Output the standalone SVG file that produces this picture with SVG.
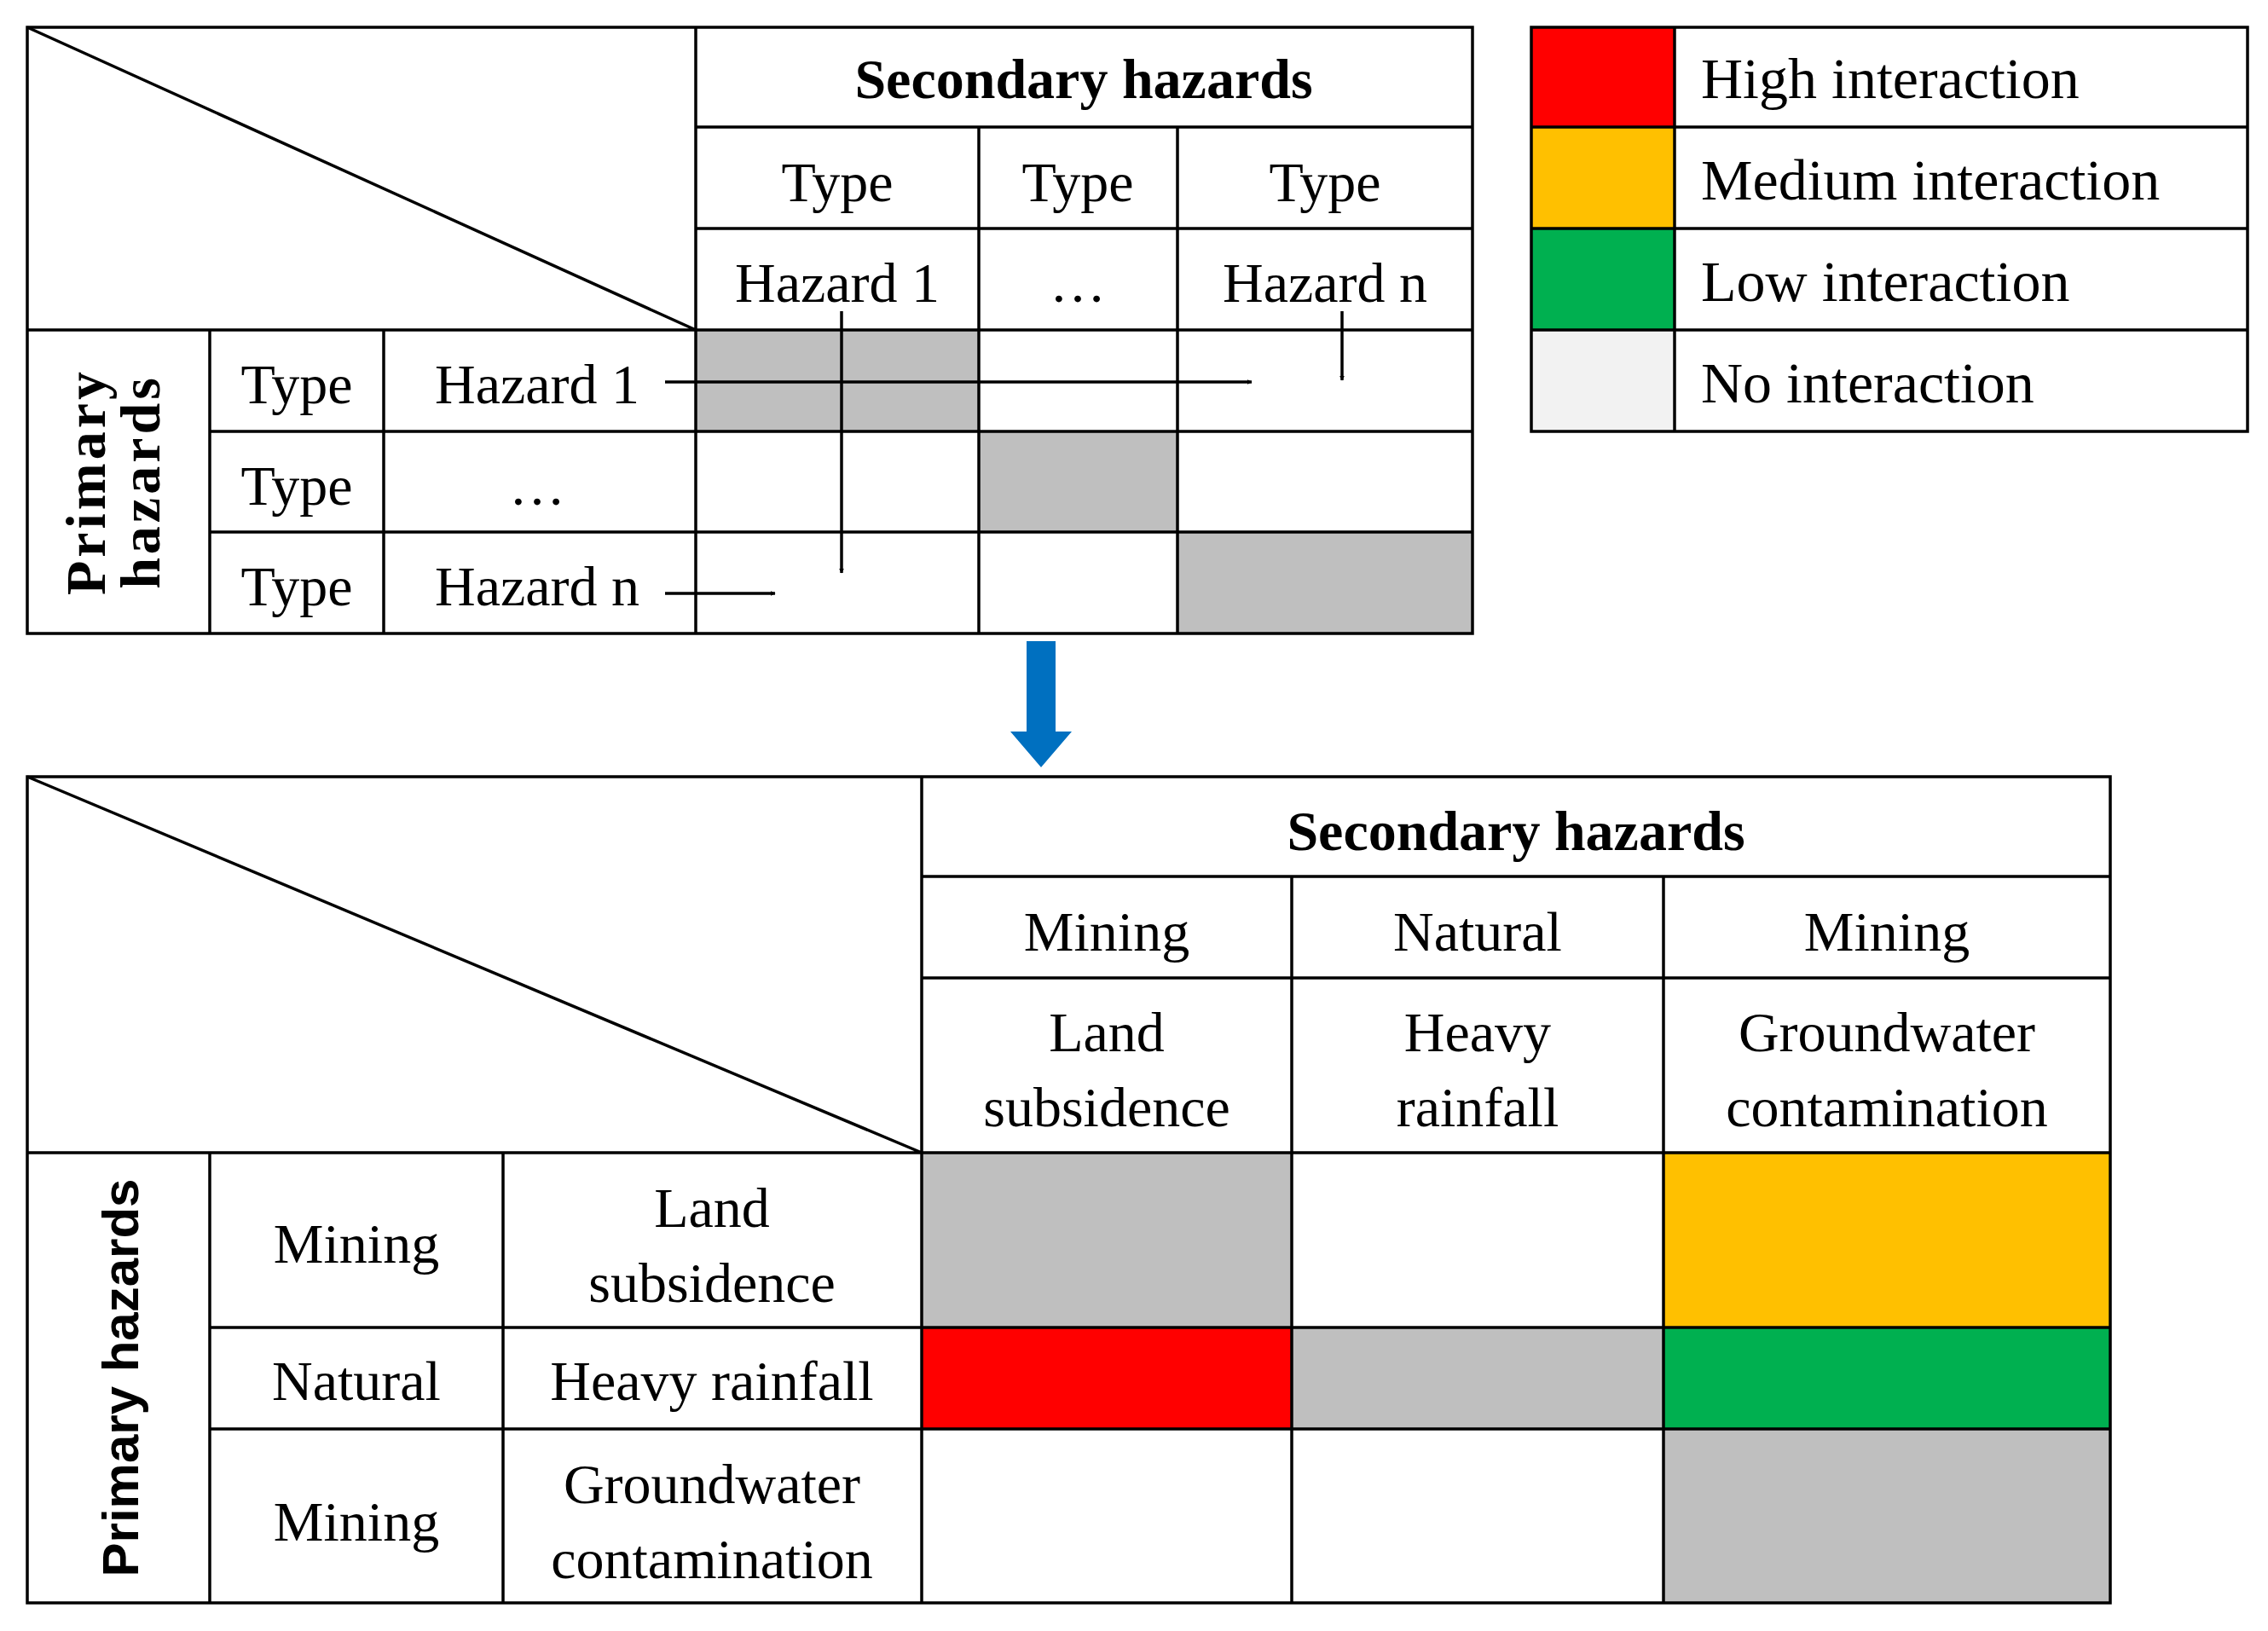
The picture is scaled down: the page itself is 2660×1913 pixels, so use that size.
<svg xmlns="http://www.w3.org/2000/svg" width="2660" height="1913" viewBox="0 0 2660 1913">
<style>
.g{fill:#BFBFBF}
.ln{stroke:#000;stroke-width:3.5;fill:none}
.t{font-family:"Liberation Serif",serif;font-size:66px;text-anchor:middle;fill:#000}
.b{font-weight:bold}
.lg{font-family:"Liberation Serif",serif;font-size:68px;fill:#000}
.arr{stroke:#000;stroke-width:3.5;fill:none;marker-end:url(#ah)}
</style>
<defs>
<marker id="ah" viewBox="0 0 10 10" refX="9" refY="5" markerWidth="6" markerHeight="6" orient="auto" markerUnits="userSpaceOnUse"><path d="M0,0 L10,5 L0,10 z" fill="#000"/></marker>
</defs>
<rect width="2660" height="1913" fill="#fff"/>
<g id="top-table">
<rect class="g" x="816" y="387" width="332" height="119"/>
<rect class="g" x="1148" y="506" width="233" height="118"/>
<rect class="g" x="1381" y="624" width="346" height="119"/>
<rect class="ln" x="32" y="32" width="1695" height="711"/>
<path class="ln" d="M816 32V743M32 387H1727M816 149H1727M816 268H1727M246 506H1727M246 624H1727M1148 149V743M1381 149V743M246 387V743M450 387V743M32 32L816 387"/>
<text class="t b" x="1271" y="115">Secondary hazards</text>
<text class="t" x="982" y="236">Type</text><text class="t" x="1264" y="236">Type</text><text class="t" x="1554" y="236">Type</text>
<text class="t" x="982" y="354">Hazard 1</text><text class="t" x="1264" y="354">…</text><text class="t" x="1554" y="354">Hazard n</text>
<text class="t" x="348" y="473">Type</text><text class="t" x="348" y="592">Type</text><text class="t" x="348" y="710">Type</text>
<text class="t" x="630" y="473">Hazard 1</text><text class="t" x="630" y="592">…</text><text class="t" x="630" y="710">Hazard n</text>
<g transform="translate(139,565) rotate(-90)"><text class="t b" x="0" y="-16" letter-spacing="4">Primary</text><text class="t b" x="0" y="48" letter-spacing="4">hazards</text></g>
</g>
<g id="legend">
<rect x="1796" y="32" width="168" height="119" fill="#FF0000"/>
<rect x="1796" y="149" width="168" height="119" fill="#FFC000"/>
<rect x="1796" y="268" width="168" height="119" fill="#00B050"/>
<rect x="1796" y="387" width="168" height="119" fill="#F2F2F2"/>
<rect class="ln" x="1796" y="32" width="840" height="474"/>
<path class="ln" d="M1964 32V506M1796 149H2636M1796 268H2636M1796 387H2636"/>
<text class="lg" x="1995" y="115">High interaction</text>
<text class="lg" x="1995" y="234">Medium interaction</text>
<text class="lg" x="1995" y="353">Low interaction</text>
<text class="lg" x="1995" y="472">No interaction</text>
</g>
<g id="connectors">
<path class="arr" d="M987 365V672"/>
<path class="arr" d="M780 448H1468"/>
<path class="arr" d="M1574 365V446"/>
<path class="arr" d="M780 696H909"/>
<path d="M1204 752H1238V858H1257L1221 900L1185 858H1204Z" fill="#0070C0"/>
</g>
<g id="bottom-table">
<rect class="g" x="1081" y="1352" width="434" height="205"/>
<rect x="1951" y="1352" width="524" height="205" fill="#FFC000"/>
<rect x="1081" y="1557" width="434" height="119" fill="#FF0000"/>
<rect class="g" x="1515" y="1557" width="436" height="119"/>
<rect x="1951" y="1557" width="524" height="119" fill="#00B050"/>
<rect class="g" x="1951" y="1676" width="524" height="204"/>
<rect class="ln" x="32" y="911" width="2443" height="969"/>
<path class="ln" d="M1081 911V1880M32 1352H2475M1081 1028H2475M1081 1147H2475M246 1557H2475M246 1676H2475M1515 1028V1880M1951 1028V1880M246 1352V1880M590 1352V1880M32 911L1081 1352"/>
<text class="t b" x="1778" y="997">Secondary hazards</text>
<text class="t" x="1298" y="1115">Mining</text><text class="t" x="1733" y="1115">Natural</text><text class="t" x="2213" y="1115">Mining</text>
<text class="t" x="1298" y="1233">Land</text><text class="t" x="1298" y="1321">subsidence</text>
<text class="t" x="1733" y="1233">Heavy</text><text class="t" x="1733" y="1321">rainfall</text>
<text class="t" x="2213" y="1233">Groundwater</text><text class="t" x="2213" y="1321">contamination</text>
<text class="t" x="418" y="1481">Mining</text><text class="t" x="418" y="1642">Natural</text><text class="t" x="418" y="1807">Mining</text>
<text class="t" x="835" y="1439">Land</text><text class="t" x="835" y="1527">subsidence</text>
<text class="t" x="835" y="1642">Heavy rainfall</text>
<text class="t" x="835" y="1763">Groundwater</text><text class="t" x="835" y="1851">contamination</text>
<text transform="translate(162,1616) rotate(-90)" x="0" y="0" style="font-family:'Liberation Sans',sans-serif;font-size:60px;font-weight:bold;text-anchor:middle">Primary hazards</text>
</g>
</svg>
